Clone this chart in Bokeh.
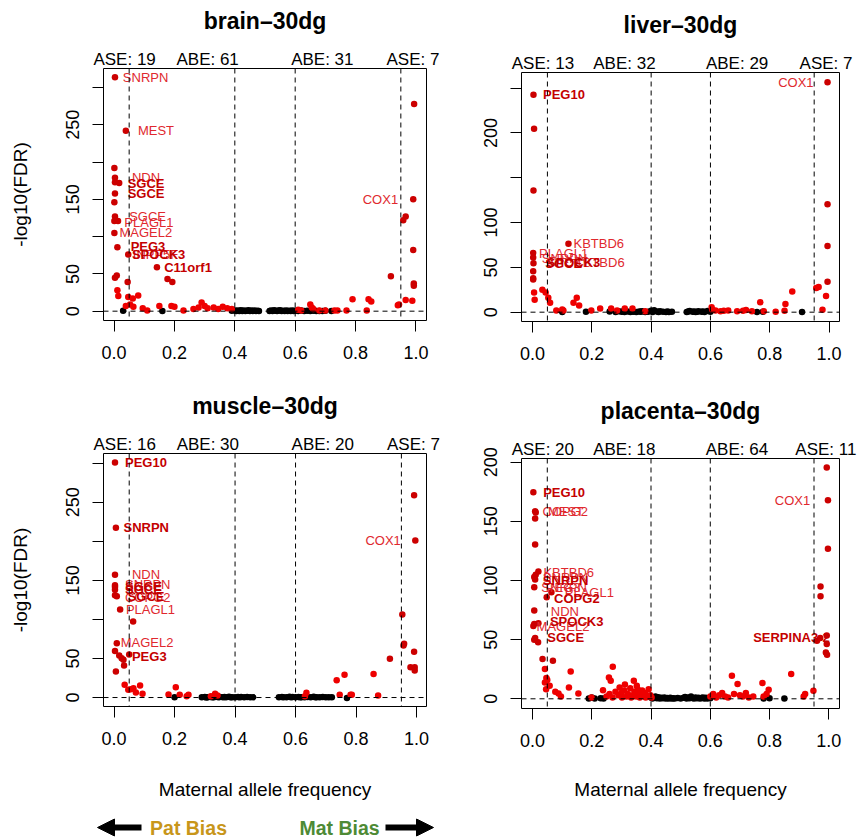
from bokeh.plotting import figure
from bokeh.layouts import column, row
from bokeh.models import (Range1d, FixedTicker, Span, LinearAxis, Arrow,
                          NormalHead, ColumnDataSource, NumeralTickFormatter)
from bokeh.core.properties import value
from bokeh.embed import file_html
from bokeh.resources import INLINE

FONT = "Liberation Sans"
RED_HI = "#CC0000"
RED_LO = "#EE0000"
LAB_REG = "#E0282E"
LAB_BOLD = "#C40000"

# ---------------- data ----------------
count_names = ["ASE", "ABE", "ABE", "ASE"]
x_ticks = [0.0, 0.2, 0.4, 0.6, 0.8, 1.0]
cut_lines = [0.05, 0.4, 0.6, 0.95]
x_label = "Maternal allele frequency"
y_label = "-log10(FDR)"

brain_title = "brain–30dg"
brain_counts = [19, 61, 31, 7]
brain_red = [(0.003, 313.8), (0.039, 242), (0.001, 192), (0.003, 179), (0.003, 173), (0.017, 172),
             (0.003, 158), (0.001, 146), (0.003, 127), (0.013, 121), (0.001, 121), (0.001, 105),
             (0.011, 85.7), (0.047, 76), (0.142, 59), (0.177, 43), (0.193, 39), (0.003, 45),
             (0.009, 48), (0.045, 39), (0.011, 28), (0.014, 20.5), (0.047, 19), (0.062, 17),
             (0.080, 21), (0.039, 7), (0.053, 9), (0.064, 6), (0.095, 4), (0.110, 1), (0.150, 7),
             (0.190, 7), (0.200, 6), (0.230, 1), (0.263, 3), (0.280, 5), (0.290, 11.6), (0.300, 7),
             (0.310, 4), (0.330, 5), (0.345, 3), (0.360, 6), (0.375, 4), (0.390, 3),
             (0.610, 2), (0.620, 1), (0.650, 9), (0.655, 5), (0.660, 3), (0.680, 1), (0.700, 1),
             (0.730, 1), (0.740, 1), (0.770, 1), (0.790, 16), (0.837, 1), (0.843, 16), (0.852, 13),
             (0.917, 47), (0.940, 8), (0.944, 9), (0.958, 122), (0.966, 127), (0.966, 15),
             (0.988, 14), (0.991, 150), (0.994, 278), (0.991, 82), (0.993, 34), (0.993, 37)]
brain_black = [(0.030, 0.5), (0.160, 0.3), (0.390, 0.5), (0.400, 1.0), (0.405, 0.2), (0.410, 0.8),
               (0.415, 0.3), (0.420, 1.2), (0.425, 0.4), (0.430, 0.9), (0.435, 0.2), (0.440, 0.7),
               (0.445, 1.1), (0.450, 0.3), (0.455, 0.8), (0.460, 0.4), (0.465, 1.0), (0.470, 0.2),
               (0.475, 0.6), (0.480, 0.3), (0.515, 0.4), (0.520, 0.9), (0.525, 0.2), (0.530, 1.1),
               (0.535, 0.5), (0.540, 0.2), (0.545, 0.8), (0.550, 1.3), (0.555, 0.3), (0.560, 0.7),
               (0.565, 0.2), (0.570, 1.0), (0.575, 0.4), (0.580, 0.6), (0.585, 0.2), (0.590, 0.9),
               (0.595, 0.3), (0.600, 0.6), (0.610, 0.2), (0.620, 0.8), (0.630, 0.3), (0.640, 0.5),
               (0.650, 0.2), (0.660, 0.7), (0.670, 0.3), (0.680, 0.4), (0.690, 0.2), (0.700, 0.5),
               (0.720, 0.3)]
brain_genes = [("SNRPN", 0.029, 313.8, 0, "left"), ("MEST", 0.079, 242, 0, "left"),
               ("NDN", 0.059, 179, 0, "left"), ("SGCE", 0.045, 171, 1, "left"),
               ("SGCE", 0.045, 157.6, 1, "left"), ("SGCE", 0.050, 127.6, 0, "left"),
               ("PLAGL1", 0.034, 119.6, 0, "left"), ("MAGEL2", 0.018, 104.9, 0, "left"),
               ("PEG3", 0.055, 87, 1, "left"), ("SPOCK3", 0.059, 75.4, 1, "left"),
               ("INPP5F", 0.062, 75.4, 0, "left"), ("C11orf1", 0.166, 58.5, 1, "left"),
               ("COX1", 0.941, 149.6, 0, "right")]

liver_title = "liver–30dg"
liver_counts = [13, 32, 29, 7]
liver_red = [(0.003, 242.6), (0.005, 204.7), (0.003, 135.8), (0.121, 76.3), (0.002, 66), (0.002, 61),
             (0.003, 54.7), (0.002, 45.8), (0.002, 38), (0.002, 36.5), (0.005, 22), (0.007, 14),
             (0.033, 25), (0.044, 22), (0.053, 16), (0.059, 10.5), (0.080, 2), (0.100, 3),
             (0.104, 2), (0.138, 10.5), (0.149, 16), (0.157, 7.5), (0.198, 2), (0.228, 4),
             (0.265, 4), (0.285, 2), (0.311, 4), (0.337, 4), (0.380, 1), (0.604, 5.6), (0.606, 3),
             (0.617, 2), (0.634, 1), (0.645, 1.5), (0.660, 2), (0.690, 1), (0.710, 1.5),
             (0.720, 2.5), (0.740, 1), (0.768, 11), (0.780, 1), (0.820, 0.5), (0.850, 1.5),
             (0.853, 9), (0.876, 23), (0.957, 27), (0.965, 28), (0.978, 2.7), (0.990, 18),
             (0.995, 34), (0.995, 74), (0.995, 120.5), (0.995, 256.7)]
liver_black = [(0.100, 0.2), (0.180, 0.5), (0.260, 0.8), (0.280, 0.3), (0.290, 1.0), (0.300, 0.4),
               (0.305, 0.9), (0.310, 0.2), (0.320, 0.7), (0.330, 0.3), (0.335, 1.1), (0.340, 0.5),
               (0.350, 0.2), (0.360, 0.8), (0.365, 0.4), (0.370, 1.0), (0.380, 0.3), (0.390, 0.6),
               (0.400, 1.5), (0.405, 0.2), (0.410, 2.2), (0.420, 0.8), (0.425, 0.3), (0.430, 1.0),
               (0.440, 0.5), (0.450, 0.2), (0.455, 0.7), (0.460, 0.3), (0.470, 0.4), (0.520, 0.3),
               (0.525, 0.8), (0.530, 1.3), (0.540, 0.4), (0.545, 0.9), (0.550, 0.2), (0.555, 0.6),
               (0.560, 1.0), (0.570, 0.4), (0.575, 0.8), (0.580, 0.3), (0.590, 1.2), (0.600, 0.5),
               (0.757, 0.3), (0.777, 0.4), (0.909, 0.2)]
liver_genes = [("PEG10", 0.035, 242.6, 1, "left"), ("KBTBD6", 0.138, 76.3, 0, "left"),
               ("PLAGL1", 0.022, 65.2, 0, "left"), ("SNRPN", 0.031, 59.4, 0, "left"),
               ("SGCE", 0.043, 54.4, 1, "left"), ("SPOCK3", 0.048, 55.5, 1, "left"),
               ("KBTBD6", 0.140, 55.1, 0, "left"), ("COX1", 0.948, 256.7, 0, "right")]

muscle_title = "muscle–30dg"
muscle_counts = [16, 30, 20, 7]
muscle_red = [(0.003, 300.9), (0.006, 217.5), (0.003, 157.3), (0.003, 143.6), (0.003, 141.4),
              (0.003, 138), (0.003, 130.8), (0.009, 129.5), (0.020, 112.8), (0.063, 97.4),
              (0.009, 69.6), (0.050, 55), (0.003, 59.4), (0.017, 53.8), (0.025, 50.4), (0.031, 48.3),
              (0.033, 41), (0.006, 33.3), (0.035, 16.2), (0.047, 9.8), (0.055, 10.6), (0.064, 12),
              (0.086, 15.4), (0.072, 6.4), (0.094, 4.7), (0.180, 3.8), (0.204, 13.2), (0.217, 3.5),
              (0.240, 1.7), (0.246, 3.5), (0.320, 1.7), (0.334, 4.7), (0.342, 2.6),
              (0.631, 1.7), (0.636, 6), (0.736, 22), (0.746, 3.5), (0.762, 29), (0.782, 3.5),
              (0.786, 3.5), (0.858, 30), (0.873, 2.6), (0.912, 49.6), (0.953, 106.4), (0.957, 66.7),
              (0.959, 68.8), (0.980, 38.8), (0.992, 58.6), (0.994, 38.8), (0.994, 34.6),
              (0.992, 259), (0.996, 200.9)]
muscle_black = [(0.200, 0.2), (0.290, 0.3), (0.300, 0.6), (0.305, 0.1), (0.310, 0.4), (0.320, 0.8),
                (0.325, 0.2), (0.330, 0.5), (0.340, 0.9), (0.345, 0.3), (0.350, 0.6), (0.360, 0.2),
                (0.365, 0.7), (0.370, 0.4), (0.380, 0.9), (0.385, 0.2), (0.390, 0.5), (0.400, 0.3),
                (0.410, 0.7), (0.415, 0.2), (0.420, 0.6), (0.430, 0.3), (0.440, 0.8), (0.450, 0.4),
                (0.460, 0.2), (0.545, 0.3), (0.555, 0.7), (0.560, 0.2), (0.570, 0.5), (0.580, 0.9),
                (0.585, 0.3), (0.590, 0.6), (0.600, 0.2), (0.610, 0.8), (0.615, 0.3), (0.620, 0.5),
                (0.630, 0.2), (0.640, 0.7), (0.650, 0.4), (0.660, 0.9), (0.665, 0.2), (0.670, 0.5),
                (0.680, 0.3), (0.690, 0.6), (0.700, 0.2), (0.710, 0.4), (0.720, 0.3), (0.770, -0.5)]
muscle_genes = [("PEG10", 0.036, 300.9, 1, "left"), ("SNRPN", 0.031, 217.6, 1, "left"),
                ("NDN", 0.059, 157.3, 0, "left"), ("SNRPN", 0.036, 144.9, 0, "left"),
                ("SGCE", 0.036, 142, 1, "left"), ("SGCE", 0.036, 138, 1, "left"),
                ("COPG2", 0.036, 128.6, 0, "left"), ("SGCE", 0.045, 129.5, 1, "left"),
                ("PLAGL1", 0.039, 112.4, 0, "left"), ("MAGEL2", 0.022, 70.1, 0, "left"),
                ("PEG3", 0.059, 53, 1, "left"), ("COX1", 0.948, 200.9, 0, "right")]

placenta_title = "placenta–30dg"
placenta_counts = [20, 18, 64, 11]
placenta_red = [(0.003, 174.6), (0.009, 158.5), (0.011, 157.4), (0.009, 152.3), (0.009, 130.5),
                (0.020, 107.6), (0.011, 104.8), (0.006, 102.9), (0.009, 100.9), (0.006, 94.3),
                (0.064, 90), (0.048, 85.8), (0.006, 74.6), (0.020, 63.8), (0.003, 61.6), (0.006, 63.2),
                (0.009, 51.4), (0.006, 50), (0.019, 47.7), (0.034, 33.6), (0.069, 32.2), (0.042, 25.2),
                (0.047, 17.5), (0.042, 13.8), (0.050, 15.8), (0.058, 11), (0.046, 8), (0.129, 23.1),
                (0.123, 9.6), (0.155, 4.5), (0.077, 6), (0.088, 4.5), (0.096, 2), (0.199, 1.1),
                (0.238, 7.3), (0.258, 18), (0.264, 15.3), (0.271, 27.1), (0.294, 9.6), (0.342, 15.3),
                (0.250, 2), (0.260, 4), (0.270, 1), (0.280, 6), (0.290, 3), (0.300, 5), (0.302, 1),
                (0.310, 7), (0.318, 2), (0.322, 4), (0.330, 9), (0.333, 1), (0.340, 3), (0.344, 6),
                (0.350, 2), (0.352, 11), (0.360, 4), (0.362, 1), (0.370, 7), (0.372, 3), (0.380, 5),
                (0.382, 1), (0.390, 2), (0.392, 8), (0.398, 3), (0.402, 1), (0.312, 12), (0.355, 8),
                (0.600, 2), (0.610, 4), (0.620, 1), (0.630, 3), (0.640, 5), (0.650, 2), (0.660, 1),
                (0.673, 19.5), (0.680, 4), (0.692, 12.5), (0.700, 3), (0.710, 2), (0.720, 5),
                (0.730, 1), (0.745, 2), (0.776, 13.3), (0.780, 2), (0.790, 4), (0.797, 7.6),
                (0.873, 21), (0.915, 2), (0.920, 4), (0.948, 6.8), (0.960, 49), (0.971, 51.4),
                (0.972, 94.9), (0.972, 86.7), (0.990, 39.2), (0.993, 53.4), (0.993, 46.4),
                (0.994, 37.3), (0.993, 195.5), (0.997, 167.8), (0.997, 126.9)]
placenta_black = [(0.190, 0.3), (0.200, 1.0), (0.210, 0.2), (0.230, 0.5), (0.240, 0.2), (0.400, 1.2),
                  (0.405, 0.3), (0.410, 0.8), (0.415, 2.0), (0.420, 0.5), (0.425, 1.3), (0.430, 0.2),
                  (0.435, 0.9), (0.440, 0.4), (0.445, 1.1), (0.450, 0.2), (0.455, 0.7), (0.460, 0.3),
                  (0.465, 0.9), (0.470, 0.2), (0.475, 0.5), (0.480, 0.3), (0.490, 0.6), (0.500, 0.2),
                  (0.510, 0.8), (0.515, 1.5), (0.520, 0.3), (0.525, 1.0), (0.530, 0.4), (0.535, 2.0),
                  (0.540, 0.6), (0.545, 0.2), (0.550, 1.2), (0.555, 0.4), (0.560, 0.9), (0.565, 0.2),
                  (0.570, 0.6), (0.575, 1.1), (0.580, 0.3), (0.585, 0.8), (0.590, 0.2), (0.600, 0.5),
                  (0.780, 0.2), (0.800, 0.4), (0.850, 0.3)]
placenta_genes = [("PEG10", 0.036, 174.6, 1, "left"), ("COPG2", 0.034, 157.9, 0, "left"),
                  ("MEST", 0.052, 157.9, 0, "left"), ("KBTBD6", 0.037, 107, 0, "left"),
                  ("SNRPN", 0.035, 102.5, 0, "left"), ("SNRPN", 0.035, 100.4, 1, "left"),
                  ("SNRPN", 0.030, 94.3, 0, "left"), ("PEG3", 0.045, 94.3, 0, "left"),
                  ("PLAGL1", 0.109, 90, 0, "left"), ("COPG2", 0.073, 85, 1, "left"),
                  ("NDN", 0.062, 74, 0, "left"), ("SPOCK3", 0.059, 65.5, 1, "left"),
                  ("MAGEL2", 0.014, 61, 0, "left"), ("SGCE", 0.050, 51.4, 1, "left"),
                  ("COX1", 0.937, 167.2, 0, "right"), ("SERPINA3-2", 1.003, 52, 1, "right")]

# ---------------- layout constants ----------------
count_pos = [0.035, 0.31, 0.69, 0.99]
TOP_PAD = 22       # space between header strip and plot frame (holds the count labels)
TITLE_GAP = 48     # title centre above the frame top


def panel(title, counts, red, black, genes, xr, yr, yticks, hidden,
          w, head_h, main_h, bl, br, fh, with_ylab):
    xrange = Range1d(*xr)
    # header strip holding the title, sharing the panel's x scale
    hd = figure(width=w, height=head_h, x_range=xrange, y_range=Range1d(head_h, 0),
                output_backend="svg", toolbar_location=None,
                min_border_left=bl, min_border_right=br, min_border_top=0, min_border_bottom=0)
    hd.axis.visible = False
    hd.grid.visible = False
    hd.outline_line_color = None
    hd.background_fill_color = "white"
    hd.border_fill_color = "white"
    hd.text(x=[(xr[0] + xr[1]) / 2], y=[head_h + TOP_PAD - TITLE_GAP], text=[title],
            text_font=value(FONT), text_font_size="23px", text_font_style="bold",
            text_color="black", text_align="center", text_baseline="middle")

    bb = main_h - TOP_PAD - fh
    p = figure(width=w, height=main_h, x_range=xrange, y_range=Range1d(*yr),
               output_backend="svg", toolbar_location=None,
               min_border_left=bl, min_border_right=br, min_border_top=TOP_PAD,
               min_border_bottom=bb)
    p.grid.visible = False
    p.outline_line_color = "black"
    p.outline_line_width = 1
    p.outline_line_alpha = 1
    p.background_fill_color = "white"
    p.border_fill_color = "white"

    xa = p.below[0]
    ya = p.left[0]
    xa.ticker = FixedTicker(ticks=x_ticks)
    xa.formatter = NumeralTickFormatter(format="0.0")
    ya.ticker = FixedTicker(ticks=yticks)
    ya.major_label_overrides = {t: "" for t in hidden}
    ya.major_label_orientation = "vertical"
    for ax in (xa, ya):
        ax.axis_line_color = None
        ax.major_tick_in = 0
        ax.major_tick_out = 11
        ax.major_tick_line_color = "black"
        ax.minor_tick_line_color = None
        ax.major_label_text_font = FONT
        ax.major_label_text_font_size = "18px"
        ax.major_label_text_color = "black"
        ax.axis_label_text_font = FONT
        ax.axis_label_text_font_size = "19px"
        ax.axis_label_text_font_style = "normal"
        ax.axis_label_text_color = "black"
    xa.major_label_standoff = 14
    ya.major_label_standoff = 13
    if with_ylab:
        ya.axis_label = y_label
        ya.axis_label_standoff = 33

    ta = LinearAxis(ticker=FixedTicker(ticks=count_pos),
                    major_label_overrides={pos: f"{n}: {c}" for pos, n, c in zip(count_pos, count_names, counts)},
                    axis_line_color=None, major_tick_line_color=None, minor_tick_line_color=None,
                    major_tick_out=0, major_tick_in=0, major_label_standoff=0,
                    major_label_text_font=FONT, major_label_text_font_size="17px",
                    major_label_text_color="black")
    p.add_layout(ta, "above")

    for v in cut_lines:
        p.add_layout(Span(location=v, dimension="height", line_color="black",
                          line_width=1, line_dash="5 4"))
    p.add_layout(Span(location=0, dimension="width", line_color="black",
                      line_width=1, line_dash="5 4"))

    bx = [a for a, b in black]
    by = [b for a, b in black]
    p.scatter(bx, by, size=6.5, color="black", line_width=0)
    rx = [a for a, b in red]
    ry = [b for a, b in red]
    rc = [RED_HI if b > 30 else RED_LO for b in ry]
    p.scatter(x="x", y="y", color="c", size=6.5, line_width=0,
              source=ColumnDataSource(dict(x=rx, y=ry, c=rc)))

    for bold in (0, 1):
        for align in ("left", "right"):
            sel = [g for g in genes if g[3] == bold and g[4] == align]
            if not sel:
                continue
            p.text(x=[g[1] for g in sel], y=[g[2] for g in sel], text=[g[0] for g in sel],
                   text_font=value(FONT), text_font_size="13px",
                   text_font_style="bold" if bold else "normal",
                   text_color=LAB_BOLD if bold else LAB_REG,
                   text_align=align, text_baseline="middle")
    return column(hd, p, spacing=0)


# page rows: top 0..388, bottom 388..770, strip 770..840
c1 = panel(brain_title, brain_counts, brain_red, brain_black, brain_genes,
           (-0.035, 1.035), (-12.5, 325.5), [0, 50, 100, 150, 200, 250, 300], [100, 200, 300],
           440, 46, 342, 103, 14, 252, True)
c2 = panel(liver_title, liver_counts, liver_red, liver_black, liver_genes,
           (-0.0374, 1.0354), (-10.4, 267.5), [0, 50, 100, 150, 200, 250], [150, 250],
           420, 50, 338, 81, 21, 249, False)
c3 = panel(muscle_title, muscle_counts, muscle_red, muscle_black, muscle_genes,
           (-0.035, 1.033), (-11.5, 312.4), [0, 50, 100, 150, 200, 250, 300], [100, 200, 300],
           440, 43, 339, 103, 14, 253, True)
c4 = panel(placenta_title, placenta_counts, placenta_red, placenta_black, placenta_genes,
           (-0.037, 1.036), (-8.2, 203.1), [0, 50, 100, 150, 200], [],
           420, 48, 334, 81, 21, 250, False)

# bottom strip (page pixel coordinates): x-axis titles and bias arrows
f5 = figure(width=860, height=70, x_range=Range1d(0, 860), y_range=Range1d(840, 770),
            output_backend="svg", toolbar_location=None, min_border=0)
f5.axis.visible = False
f5.grid.visible = False
f5.outline_line_color = None
f5.background_fill_color = "white"
f5.border_fill_color = "white"
f5.text(x=[264.5, 680], y=[789, 789], text=[x_label, x_label], text_font=value(FONT),
        text_font_size="19px", text_color="black", text_align="center", text_baseline="middle")
f5.text(x=[188], y=[827], text=["Pat Bias"], text_font=value(FONT), text_font_size="19.5px",
        text_font_style="bold", text_color="#C8961A", text_align="center", text_baseline="middle")
f5.text(x=[339], y=[827], text=["Mat Bias"], text_font=value(FONT), text_font_size="19.5px",
        text_font_style="bold", text_color="#4E8A35", text_align="center", text_baseline="middle")
f5.add_layout(Arrow(x_start=141, y_start=827, x_end=97, y_end=827, line_width=6,
                    line_color="black",
                    end=NormalHead(size=17, fill_color="black", line_color="black")))
f5.add_layout(Arrow(x_start=385, y_start=827, x_end=433, y_end=827, line_width=6,
                    line_color="black",
                    end=NormalHead(size=17, fill_color="black", line_color="black")))

layout = column(row(c1, c2, spacing=0), row(c3, c4, spacing=0), f5, spacing=0)
open("out.html", "w").write(file_html(layout, INLINE))
